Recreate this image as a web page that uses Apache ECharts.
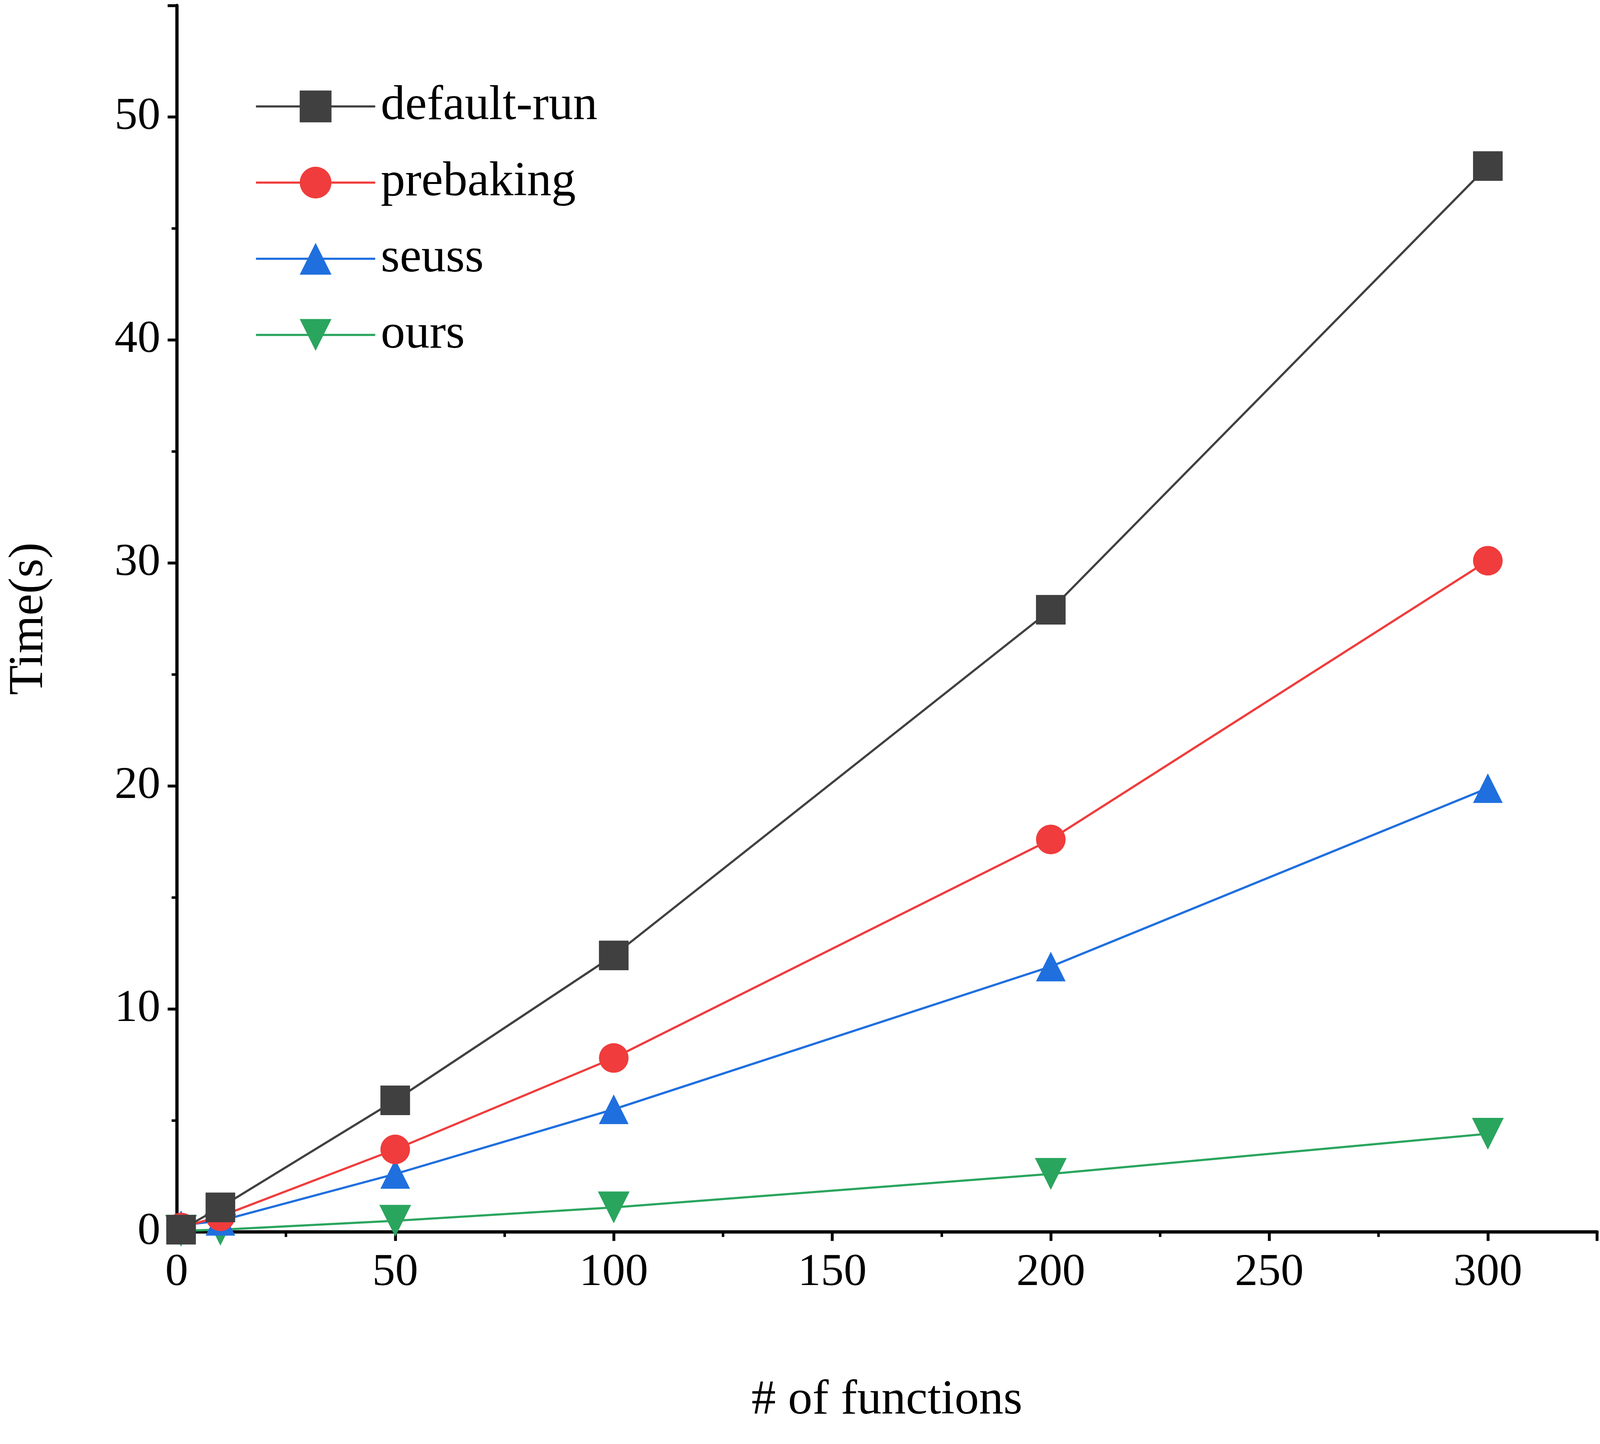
<!DOCTYPE html>
<html><head><meta charset="utf-8">
<script src="https://cdn.jsdelivr.net/npm/echarts@6/dist/echarts.min.js"></script>
<style>html,body{margin:0;padding:0;background:#fff;overflow:hidden;width:100%;height:100%}#c{width:100vw;height:100vh}</style>
</head><body><div id="c"></div>
<script>
const xs = [1, 10, 50, 100, 200, 300];
const defaultRun = [0.1, 1.1, 5.9, 12.4, 27.9, 47.8];
const prebaking = [0.2, 0.7, 3.7, 7.8, 17.6, 30.1];
const seuss = [0.3, 0.5, 2.6, 5.5, 11.9, 19.9];
const ours = [0.05, 0.1, 0.5, 1.1, 2.6, 4.4];
const names = ['default-run', 'prebaking', 'seuss', 'ours'];
const colors = ['#404040', '#F03C3C', '#1F6FDF', '#2AA55E'];
const symbols = ['rect', 'circle', 'triangle', 'path://M0,0 L10,0 L5,9 Z'];
const sets = [defaultRun, prebaking, seuss, ours];
const font = 'Liberation Serif';
const W = window.innerWidth, H = window.innerHeight;
const sx = W / 4428, sy = H / 3697, s = Math.min(sx, sy);
const chart = echarts.init(document.getElementById('c'));
chart.setOption({
  animation: false,
  textStyle: {fontFamily: font},
  grid: {left: 489 * sx, right: 8 * sx, top: 14 * sy, bottom: (3697 - 3154) * sy},
  legend: {
    left: 700 * sx, top: 205 * sy, orient: 'vertical', itemGap: 70 * sy,
    itemWidth: 330 * s, itemHeight: 110 * s,
    lineStyle: {width: 6 * s},
    textStyle: {fontFamily: font, fontSize: 135 * s, color: '#000', padding: [0, 0, 0, 10 * s]},
    data: names
  },
  xAxis: {
    type: 'value', min: 0, max: 325, interval: 50,
    name: '# of functions', nameLocation: 'middle', nameGap: 400 * s,
    nameTextStyle: {fontFamily: font, fontSize: 135 * s, color: '#000'},
    axisLine: {lineStyle: {color: '#000', width: 9 * s}},
    axisTick: {show: true, length: 25 * s, lineStyle: {width: 8 * s, color: '#000'}},
    minorTick: {show: true, splitNumber: 2, length: 14 * s, lineStyle: {width: 7 * s, color: '#000'}},
    axisLabel: {fontFamily: font, fontSize: 127 * s, color: '#000', margin: 50 * s, showMaxLabel: false},
    splitLine: {show: false}
  },
  yAxis: {
    type: 'value', min: 0, max: 55, interval: 10,
    name: 'Time(s)', nameLocation: 'middle', nameGap: 340 * s, nameRotate: 90,
    nameTextStyle: {fontFamily: font, fontSize: 135 * s, color: '#000'},
    axisLine: {show: true, lineStyle: {color: '#000', width: 9 * s}},
    axisTick: {show: true, length: 25 * s, lineStyle: {width: 8 * s, color: '#000'}},
    minorTick: {show: true, splitNumber: 2, length: 14 * s, lineStyle: {width: 7 * s, color: '#000'}},
    axisLabel: {fontFamily: font, fontSize: 127 * s, color: '#000', margin: 45 * s, showMaxLabel: false},
    splitLine: {show: false}
  },
  series: sets.map((d, i) => ({
    name: names[i], type: 'line',
    data: xs.map((x, j) => [x, d[j]]),
    symbol: symbols[i], symbolSize: (i === 3 ? 88 : 82) * s,
    itemStyle: {color: colors[i]},
    lineStyle: {color: colors[i], width: 6 * s},
    z: 10 - i
  }))
});
</script></body></html>
